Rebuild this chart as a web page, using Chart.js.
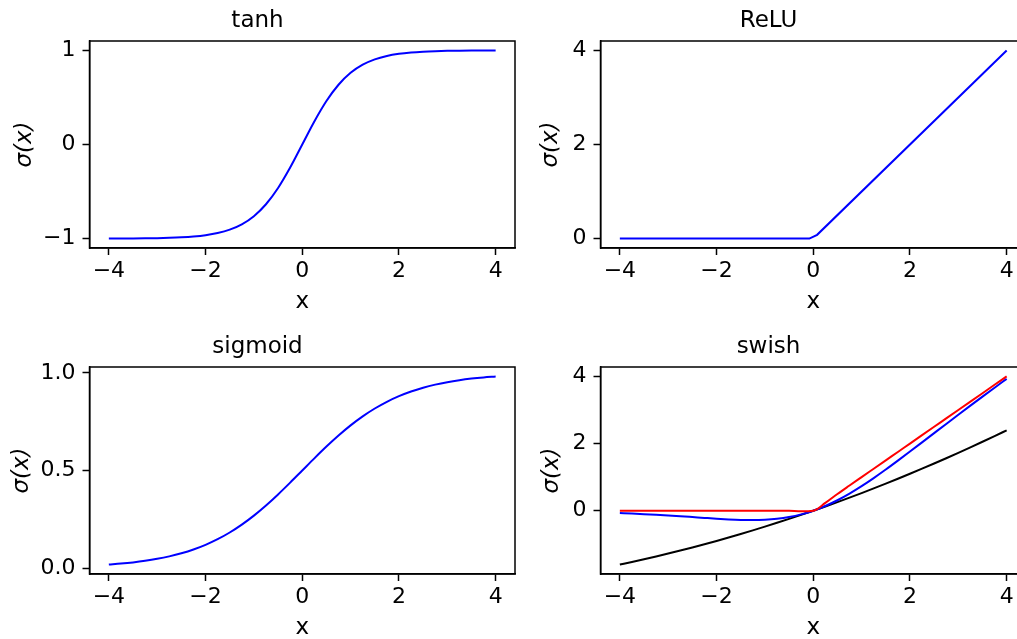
<!DOCTYPE html>
<html>
<head>
<meta charset="utf-8">
<script src="https://cdn.jsdelivr.net/npm/chart.js@4.4.1/dist/chart.umd.min.js"></script>
<style>
  html, body { margin: 0; padding: 0; background: #fff; overflow: hidden; }
  #fig { position: relative; width: 1017px; height: 639px; overflow: hidden; background: #fff; }
  #fig canvas { position: absolute; }
</style>
</head>
<body>
<div id="fig">
  <canvas id="chartTanh" width="520" height="320" style="left:0px;top:0px"></canvas>
  <canvas id="chartRelu" width="520" height="320" style="left:511.2px;top:0px"></canvas>
  <canvas id="chartSigmoid" width="520" height="320" style="left:0px;top:326.3px"></canvas>
  <canvas id="chartSwish" width="520" height="320" style="left:511.2px;top:326.3px"></canvas>
</div>
<script>
/* =====================
   DATA
===================== */
const xs = [-4, -3.75, -3.5, -3.25, -3, -2.75, -2.5, -2.25, -2, -1.75, -1.5, -1.25, -1, -0.75, -0.5, -0.25,
  0, 0.25, 0.5, 0.75, 1, 1.25, 1.5, 1.75, 2, 2.25, 2.5, 2.75, 3, 3.25, 3.5, 3.75, 4];

const tanhY = [-0.9993, -0.9989, -0.9982, -0.9970, -0.9951, -0.9919, -0.9866, -0.9780, -0.9640, -0.9414,
  -0.9051, -0.8483, -0.7616, -0.6351, -0.4621, -0.2449, 0, 0.2449, 0.4621, 0.6351, 0.7616, 0.8483, 0.9051,
  0.9414, 0.9640, 0.9780, 0.9866, 0.9919, 0.9951, 0.9970, 0.9982, 0.9989, 0.9993];

const sigmoidY = [0.0180, 0.0230, 0.0293, 0.0373, 0.0474, 0.0601, 0.0759, 0.0953, 0.1192, 0.1480, 0.1824,
  0.2227, 0.2689, 0.3208, 0.3775, 0.4378, 0.5, 0.5622, 0.6225, 0.6792, 0.7311, 0.7773, 0.8176, 0.8520,
  0.8808, 0.9047, 0.9241, 0.9399, 0.9526, 0.9627, 0.9707, 0.9770, 0.9820];

const reluX = [-4, -0.08, 0.08, 4];
const reluY = [0, 0, 0.08, 4];

// swish, three betas: 1 (blue), 0.1 (black), 10 (red)
const swishBlue = [-0.0719, -0.0863, -0.1025, -0.1212, -0.1423, -0.1653, -0.1897, -0.2144, -0.2384, -0.2590,
  -0.2736, -0.2784, -0.2689, -0.2406, -0.1888, -0.1094, 0, 0.1406, 0.3112, 0.5094, 0.7311, 0.9716, 1.2264,
  1.4910, 1.7616, 2.0356, 2.3103, 2.5847, 2.8577, 3.1287, 3.3975, 3.6637, 3.9281];
const swishBlack = [-1.6052, -1.5275, -1.4468, -1.3632, -1.2767, -1.1871, -1.0946, -0.9990, -0.9003, -0.7986,
  -0.6939, -0.5860, -0.4750, -0.3609, -0.2438, -0.1234, 0, 0.1266, 0.2563, 0.3891, 0.5250, 0.6640, 0.8061,
  0.9514, 1.0997, 1.2510, 1.4055, 1.5629, 1.7233, 1.8868, 2.0532, 2.2225, 2.3948];
const swishRed = [0, 0, 0, 0, 0, 0, 0, 0, 0, 0, 0, 0, 0, -0.0004, -0.0033, -0.0190, 0, 0.2310, 0.4966, 0.7496,
  1, 1.25, 1.5, 1.75, 2, 2.25, 2.5, 2.75, 3, 3.25, 3.5, 3.75, 4];

const xTicks = [-4, -2, 0, 2, 4];
const xTickLabels = ["\u22124", "\u22122", "0", "2", "4"];
const tanhTicks = [-1, 0, 1];
const tanhTickLabels = ["\u22121", "0", "1"];
const reluTicks = [0, 2, 4];
const reluTickLabels = ["0", "2", "4"];
const sigmoidTicks = [0, 0.5, 1];
const sigmoidTickLabels = ["0.0", "0.5", "1.0"];
const swishTicks = [0, 2, 4];
const swishTickLabels = ["0", "2", "4"];

/* =====================
   HELPERS
===================== */
const FONT = "'DejaVu Sans', sans-serif";

function pts(xArr, yArr) {
  return xArr.map((x, i) => ({ x, y: yArr[i] }));
}

function line(xArr, yArr, color, smooth = true) {
  return {
    data: pts(xArr, yArr),
    borderColor: color,
    borderWidth: 2,
    pointRadius: 0,
    fill: false,
    cubicInterpolationMode: smooth ? "monotone" : "default",
    tension: 0
  };
}

const boxPlugin = {
  id: "box",
  afterDraw(chart) {
    const { ctx, chartArea: a } = chart;
    ctx.save();
    ctx.strokeStyle = "#000";
    ctx.lineWidth = 1.5;
    ctx.strokeRect(a.left, a.top, a.right - a.left, a.bottom - a.top);
    ctx.restore();
  }
};

function makeChart(id, datasets, cfg) {
  return new Chart(document.getElementById(id), {
    type: "line",
    data: { datasets },
    options: {
      responsive: false,
      animation: false,
      devicePixelRatio: 1,
      layout: { padding: { left: 0, top: 0, right: 5, bottom: 2 } },
      plugins: {
        legend: { display: false },
        tooltip: { enabled: false },
        title: {
          display: true,
          text: cfg.title,
          color: "#000",
          font: { family: FONT, size: 23, weight: "normal" },
          padding: { top: 7, bottom: 6.4 }
        }
      },
      scales: {
        x: {
          type: "linear",
          min: -4.4,
          max: 4.4,
          afterBuildTicks: s => { s.ticks = xTicks.map(v => ({ value: v })); },
          afterFit: s => { s.height = 70; },
          ticks: {
            callback: (v, i) => xTickLabels[i],
            color: "#000",
            font: { family: FONT, size: 22 },
            padding: 3,
            maxRotation: 0,
            autoSkip: false
          },
          grid: { drawOnChartArea: false, drawTicks: true, tickLength: 7, tickColor: "#000", tickWidth: 1.5 },
          border: { display: true, color: "#000", width: 1.5 },
          title: {
            display: true,
            text: "x",
            color: "#000",
            font: { family: FONT, size: 23 },
            padding: { top: 0, bottom: 1.7 }
          }
        },
        y: {
          type: "linear",
          min: cfg.yMin,
          max: cfg.yMax,
          afterBuildTicks: s => { s.ticks = cfg.yTicks.map(v => ({ value: v })); },
          afterFit: s => { s.width = 89.5; },
          ticks: {
            callback: (v, i) => cfg.yTickLabels[i],
            color: "#000",
            font: { family: FONT, size: 22 },
            padding: 7,
            autoSkip: false
          },
          grid: { drawOnChartArea: false, drawTicks: true, tickLength: 7, tickColor: "#000", tickWidth: 1.5 },
          border: { display: true, color: "#000", width: 1.5 },
          title: {
            display: true,
            text: "\u03c3(x)",
            color: "#000",
            font: { family: FONT, size: 23, style: "italic" },
            padding: { top: cfg.yTitlePad, bottom: 0 }
          }
        }
      }
    },
    plugins: [boxPlugin]
  });
}

/* =====================
   CHARTS
===================== */
makeChart("chartTanh", [line(xs, tanhY, "#0000ff")], {
  title: "tanh", yMin: -1.1, yMax: 1.1,
  yTicks: tanhTicks, yTickLabels: tanhTickLabels, yTitlePad: 11.7
});

makeChart("chartRelu", [line(reluX, reluY, "#0000ff", false)], {
  title: "ReLU", yMin: -0.2, yMax: 4.2,
  yTicks: reluTicks, yTickLabels: reluTickLabels, yTitlePad: 26.7
});

makeChart("chartSigmoid", [line(xs, sigmoidY, "#0000ff")], {
  title: "sigmoid", yMin: -0.0302, yMax: 1.0302,
  yTicks: sigmoidTicks, yTickLabels: sigmoidTickLabels, yTitlePad: 8.7
});

// dataset 0 is drawn on top
makeChart("chartSwish", [
  line(xs, swishRed, "#ff0000"),
  line(xs, swishBlue, "#0000ff"),
  line(xs, swishBlack, "#000000")
], {
  title: "swish", yMin: -1.8855, yMax: 4.2803,
  yTicks: swishTicks, yTickLabels: swishTickLabels, yTitlePad: 27.5
});
</script>
</body>
</html>
